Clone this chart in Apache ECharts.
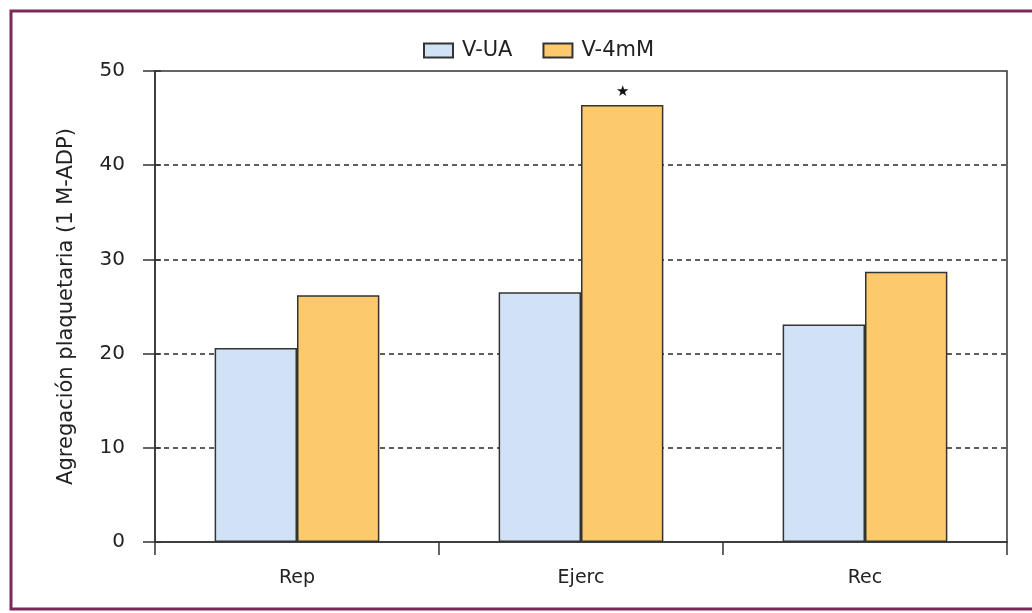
<!DOCTYPE html>
<html>
<head>
<meta charset="utf-8">
<script src="https://cdn.jsdelivr.net/npm/echarts@6/dist/echarts.min.js"></script>
<style>
  html, body { margin: 0; padding: 0; background: #fff; }
  #chart { width: 1032px; height: 613px; }
</style>
</head>
<body>
<div id="chart"></div>
<script>
// Platelet aggregation per phase
const categories = ['Rep', 'Ejerc', 'Rec'];
const seriesNames = ['V-UA', 'V-4mM'];
const valuesUA = [20.6, 26.5, 23.1];
const values4mM = [26.2, 46.4, 28.7];
const significant = [false, true, false]; // marked with a star over V-4mM
const yTicks = [0, 10, 20, 30, 40, 50];

const yMin = yTicks[0], yMax = yTicks[yTicks.length - 1], yStep = yTicks[1] - yTicks[0];
const axisColor = '#333';
const font = '"DejaVu Sans", Arial, sans-serif';

const chart = echarts.init(document.getElementById('chart'), null, { renderer: 'canvas' });

chart.setOption({
  backgroundColor: '#fff',
  animation: false,
  graphic: [{
    type: 'rect',
    shape: { x: 11, y: 11, width: 1040, height: 598 },
    style: { fill: 'none', stroke: '#7b2a57', lineWidth: 3 },
    z: 100
  }],
  legend: {
    top: 35,
    left: 418,
    icon: 'rect',
    itemWidth: 29,
    itemHeight: 14,
    itemGap: 30,
    textStyle: { fontFamily: font, fontSize: 21, color: '#222', padding: [0, 0, 0, 4] },
    data: seriesNames
  },
  // solid frame of the plotting area
  grid: { left: 155, right: 25, top: 71, bottom: 71, show: true, borderColor: axisColor, borderWidth: 1.5, backgroundColor: 'transparent' },
  xAxis: [{
    type: 'category',
    data: categories,
    position: 'bottom',
    axisLine: { show: true, onZero: false, lineStyle: { color: axisColor, width: 1.5 } },
    axisTick: { show: true, alignWithLabel: false, length: 13, lineStyle: { color: axisColor, width: 1.5 } },
    axisLabel: { margin: 27, fontFamily: font, fontSize: 19, color: '#222' },
    splitLine: { show: false }
  }],
  yAxis: [{
    type: 'value',
    min: yMin, max: yMax, interval: yStep,
    position: 'left',
    name: 'Agregación plaquetaria (1 M-ADP)',
    nameLocation: 'middle',
    nameGap: 78,
    nameTextStyle: { fontFamily: font, fontSize: 21, color: '#222' },
    axisLine: { show: true, lineStyle: { color: axisColor, width: 1.5 } },
    axisTick: { show: true, length: 12, lineStyle: { color: axisColor, width: 1.5 } },
    axisLabel: { margin: 30, fontFamily: font, fontSize: 20, color: '#222' },
    splitLine: {
      show: true,
      showMinLine: false,
      showMaxLine: false,
      lineStyle: { color: '#2a2a2a', width: 1.5, type: [5, 4] }
    }
  }, {
    type: 'value',
    min: yMin, max: yMax, interval: yStep,
    position: 'left',
    axisLine: { show: false },
    axisTick: { show: true, inside: true, length: 6, lineStyle: { color: axisColor, width: 1.5 } },
    axisLabel: { show: false },
    splitLine: { show: false }
  }],
  series: [{
    name: seriesNames[0],
    type: 'bar',
    data: valuesUA,
    barWidth: '29%',
    barGap: '0%',
    itemStyle: { color: '#d2e2f6', borderColor: '#333', borderWidth: 1.5 },
    z: 3
  }, {
    name: seriesNames[1],
    type: 'bar',
    data: values4mM.map((v, i) => ({
      value: v,
      label: significant[i] ? {
        show: true, position: 'top', distance: 6,
        formatter: '★', fontSize: 15, color: '#111'
      } : { show: false }
    })),
    barWidth: '29%',
    barGap: '0%',
    itemStyle: { color: '#fcca6c', borderColor: '#333', borderWidth: 1.5 },
    z: 3
  }]
});
</script>
</body>
</html>
